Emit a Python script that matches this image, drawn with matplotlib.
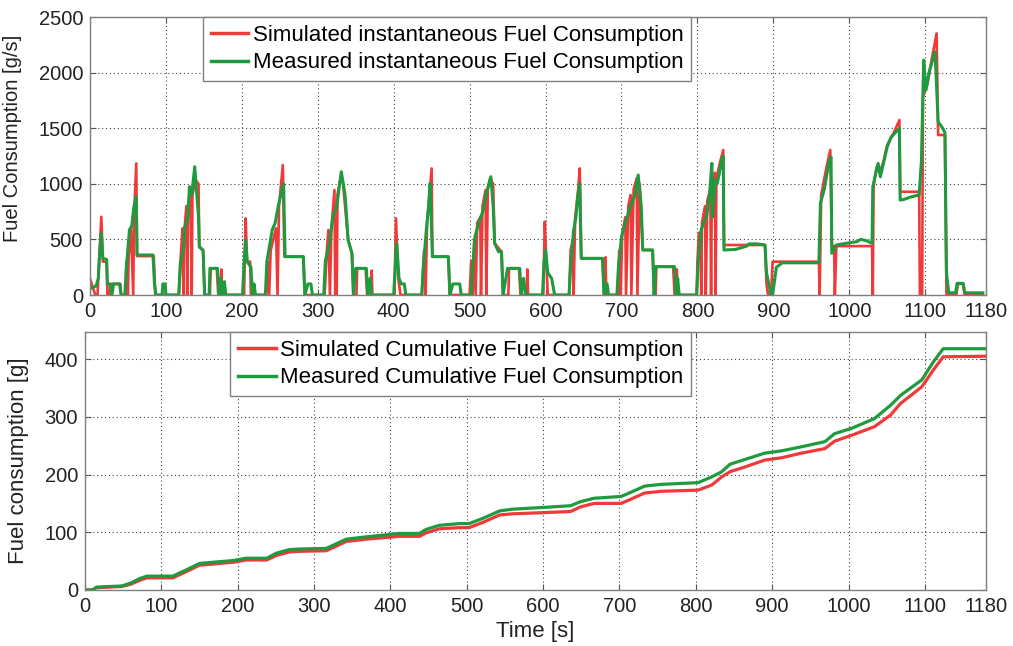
import matplotlib
matplotlib.use("Agg")
import matplotlib.pyplot as plt

plt.rcParams['font.family'] = ['Liberation Sans', 'DejaVu Sans']

# instantaneous fuel rate, measured (breakpoints: time [s], rate [g/s])
meas_t = [0, 8, 11, 13, 15, 17, 22, 23, 26, 29, 31, 39, 41, 46, 48, 52, 55, 58, 61, 62, 83, 85, 87, 95, 96, 99, 100,
          117, 119, 123, 125, 129, 131, 134, 138, 143, 144, 149, 151, 157, 158, 168, 170, 172, 175, 177, 179,
          201, 203, 205, 207, 212, 214, 216, 218, 231, 233, 240, 244, 248, 252, 255, 257, 281, 283, 287, 291, 293,
          308, 310, 315, 320, 325, 331, 336, 340, 345, 347, 350, 364, 366, 369, 371,
          400, 402, 404, 407, 410, 414, 416, 437, 439, 443, 446, 448, 451, 472, 474, 478, 487, 489,
          502, 504, 507, 512, 518, 522, 528, 531, 533, 538, 542, 544, 550, 566, 568, 571, 574,
          596, 598, 600, 603, 608, 612, 631, 633, 637, 640, 643, 645, 647, 675, 677, 681, 683,
          694, 696, 700, 705, 710, 715, 718, 722, 726, 728, 741, 743, 745, 770, 772, 774, 776,
          799, 801, 805, 808, 812, 816, 819, 820, 823, 826, 829, 832, 834, 835, 850, 865, 868, 878, 889, 891, 897,
          899, 904, 908, 912, 960, 962, 967, 973, 976, 977, 983, 1000, 1010, 1015, 1022, 1030,
          1031, 1035, 1038, 1041, 1044, 1050, 1055, 1066, 1067, 1072, 1080, 1092, 1095, 1098, 1101, 1105, 1113,
          1117, 1123, 1126, 1128, 1131, 1140, 1142, 1150, 1152, 1176]
meas_v = [60, 80, 150, 400, 555, 330, 320, 100, 100, 0, 100, 100, 0, 0, 250, 585, 620, 800, 880, 360, 360, 100, 0, 0, 100, 100, 0,
          0, 285, 400, 614, 700, 974, 900, 1154, 700, 434, 405, 0, 0, 240, 240, 0, 150, 0, 120, 0,
          0, 300, 494, 300, 250, 0, 100, 0, 0, 300, 585, 650, 800, 920, 1000, 345, 345, 0, 100, 100, 0,
          0, 310, 450, 704, 800, 1109, 900, 494, 375, 0, 240, 240, 0, 150, 0,
          0, 250, 465, 150, 100, 100, 0, 0, 250, 585, 800, 1004, 345, 345, 0, 100, 100, 0,
          0, 250, 524, 650, 764, 914, 1064, 800, 465, 390, 390, 0, 240, 240, 0, 150, 0,
          0, 300, 405, 200, 150, 0, 0, 250, 585, 700, 914, 1004, 330, 330, 0, 100, 0,
          0, 250, 524, 650, 760, 850, 900, 1079, 800, 405, 405, 0, 255, 255, 0, 150, 0,
          0, 285, 585, 650, 706, 900, 1184, 700, 1034, 1000, 1100, 1214, 1250, 405, 410, 440, 460, 460, 450, 200, 0,
          0, 250, 270, 290, 290, 826, 950, 1184, 1240, 375, 450, 470, 480, 500, 490, 465,
          974, 1100, 1184, 1064, 1155, 1334, 1420, 1499, 854, 860, 880, 900, 1200, 2113, 1843, 2000, 2188,
          1559, 1500, 1460, 200, 20, 20, 105, 105, 20, 20]

# instantaneous fuel rate, simulated
sim_t = [0, 7, 10, 12, 15, 17, 22, 23, 26, 27, 40, 41, 47, 48, 50, 51, 54, 57, 58, 61, 62, 84, 86,
         117, 120, 122, 123, 124, 127, 128, 130, 133, 134, 135, 139, 143, 144, 149, 151, 158, 159, 167, 169, 172, 173, 174,
         203, 205, 207, 211, 212, 232, 234, 236, 238, 245, 247, 249, 254, 256, 281, 283,
         309, 312, 314, 316, 318, 322, 323, 325, 326, 329, 333, 336, 340, 345, 347, 351, 352, 363, 365, 370, 371, 372,
         401, 403, 406, 409, 437, 440, 442, 444, 447, 450, 451, 472, 474,
         500, 502, 504, 506, 508, 510, 514, 515, 517, 521, 522, 524, 527, 531, 533, 542, 544, 551, 552, 565, 567, 575, 576, 577,
         597, 599, 601, 603, 631, 633, 636, 637, 639, 643, 645, 647, 675, 677, 679, 680,
         695, 697, 699, 701, 705, 706, 709, 712, 713, 716, 720, 721, 724, 728, 741, 743, 745, 746, 768, 770, 773, 774,
         799, 800, 802, 804, 805, 806, 810, 811, 813, 817, 818, 819, 823, 824, 825, 830, 834, 835, 889, 891, 893,
         897, 899, 960, 961, 963, 970, 975, 977, 980, 981, 983, 1030, 1031, 1032, 1036, 1040, 1045, 1050, 1058, 1066,
         1067, 1092, 1093, 1096, 1097, 1103, 1108, 1115, 1117, 1126, 1128, 1141, 1143, 1150, 1152, 1176]
sim_v = [150, 0, 0, 300, 704, 300, 300, 0, 0, 100, 100, 0, 0, 300, 0, 350, 600, 0, 700, 1184, 350, 350, 0,
         0, 400, 600, 0, 550, 800, 0, 850, 950, 0, 900, 1035, 1000, 430, 400, 0, 0, 240, 240, 0, 0, 230, 0,
         0, 690, 300, 300, 0, 0, 300, 0, 400, 600, 0, 800, 1169, 345, 345, 0,
         0, 400, 585, 0, 600, 944, 0, 0, 900, 1020, 1020, 800, 494, 380, 0, 0, 240, 240, 0, 0, 220, 0,
         0, 690, 150, 0, 0, 400, 0, 650, 900, 1139, 345, 345, 0,
         0, 305, 0, 500, 0, 650, 700, 0, 800, 944, 0, 950, 1050, 1000, 465, 390, 0, 0, 240, 240, 0, 0, 230, 0,
         0, 660, 300, 0, 0, 400, 500, 0, 700, 950, 1139, 330, 330, 0, 340, 0,
         0, 400, 0, 550, 700, 0, 800, 900, 0, 950, 1050, 0, 1000, 405, 405, 0, 0, 255, 255, 0, 230, 0,
         0, 300, 560, 560, 0, 650, 800, 0, 850, 950, 0, 1000, 1100, 0, 1050, 1200, 1304, 450, 450, 100, 0,
         0, 300, 300, 0, 900, 1150, 1304, 450, 440, 0, 440, 440, 0, 974, 1150, 1100, 1200, 1350, 1450, 1574,
         929, 929, 0, 0, 1780, 1900, 2100, 2353, 1439, 1439, 0, 0, 100, 100, 0, 0]

# cumulative fuel consumption [g]
cum_t = [0, 10, 15, 48, 60, 72, 81, 115, 133, 150, 194, 211, 238, 251, 268, 281, 316, 342, 368, 412, 438, 447,
         464, 490, 503, 521, 543, 560, 600, 636, 649, 667, 702, 711, 733, 755, 803, 821, 834, 845, 864, 890, 912,
         938, 969, 982, 1004, 1034, 1055, 1068, 1096, 1111, 1124, 1180]
cum_meas = [0, 0, 5, 7, 12, 20, 24, 24, 35, 46, 51, 55, 55, 64, 70, 71, 72, 88, 92, 98, 98, 105,
            112, 115, 115, 124, 137, 140, 143, 146, 153, 159, 162, 167, 180, 183, 186, 196, 205, 218, 226, 237, 241,
            248, 257, 271, 280, 297, 320, 337, 364, 395, 418, 418]
cum_sim = [0, 0, 4, 6, 10, 17, 21, 21, 32, 43, 48, 52, 52, 60, 66, 67, 68, 84, 88, 93, 93, 99,
           106, 108, 108, 117, 130, 132, 134, 136, 144, 150, 150, 155, 168, 171, 173, 182, 196, 205, 213, 225, 229,
           237, 245, 258, 268, 283, 303, 323, 352, 381, 404, 405]

x_ticks = [0, 100, 200, 300, 400, 500, 600, 700, 800, 900, 1000, 1100, 1180]

red = '#f03a3a'
green = '#1f9a3e'
txt = '#222222'

fig = plt.figure(figsize=(10.13, 6.46), dpi=100)
ax1 = fig.add_axes([0.0888, 0.5433, 0.8845, 0.4303])
ax2 = fig.add_axes([0.0839, 0.0867, 0.8894, 0.3994])

ax1.plot(sim_t, sim_v, color=red, lw=1.9, label='Simulated instantaneous Fuel Consumption')
ax1.plot(meas_t, meas_v, color=green, lw=2.2, label='Measured instantaneous Fuel Consumption')
ax1.set_ylim(0, 2500)
ax1.set_yticks([0, 500, 1000, 1500, 2000, 2500])
ax1.set_ylabel('Fuel Consumption [g/s]', fontsize=14.5, color=txt)
ax1.yaxis.set_label_coords(-0.076, 0.565)

ax2.plot(cum_t, cum_sim, color=red, lw=2.3, label='Simulated Cumulative Fuel Consumption')
ax2.plot(cum_t, cum_meas, color=green, lw=2.3, label='Measured Cumulative Fuel Consumption')
ax2.set_ylim(0, 447)
ax2.set_yticks([0, 100, 200, 300, 400])
ax2.set_ylabel('Fuel consumption [g]', fontsize=16, color=txt)
ax2.yaxis.set_label_coords(-0.062, 0.5)
ax2.set_xlabel('Time [s]', fontsize=16, color=txt, labelpad=4)

for ax, lx in ((ax1, 0.126), (ax2, 0.161)):
    ax.set_xlim(0, 1180)
    ax.set_xticks(x_ticks)
    ax.grid(True, color='#444444', linestyle=(0, (1, 2.5)), linewidth=0.8)
    ax.tick_params(direction='in', top=True, right=True, labelsize=14.5, labelcolor=txt,
                   color='#555555', length=4, pad=5)
    for s in ax.spines.values():
        s.set_color('#808080')
        s.set_linewidth(1.0)
    leg = ax.legend(loc='upper left', bbox_to_anchor=(lx, 1.0), borderaxespad=0, fontsize=16,
                    fancybox=False, framealpha=1, edgecolor='#808080', handlelength=1.7,
                    handletextpad=0.2, borderpad=0.35, labelspacing=0.3)
    leg.get_frame().set_linewidth(1.0)
    for h in leg.get_lines():
        h.set_linewidth(2.5)

fig.savefig('out.png', dpi=100)
